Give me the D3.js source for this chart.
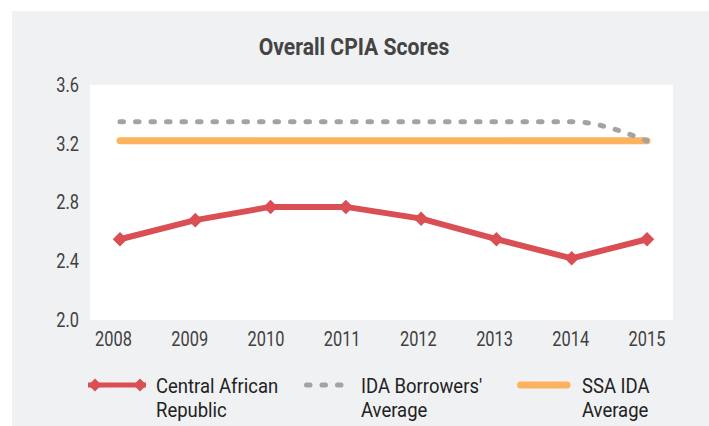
<!DOCTYPE html>
<html>
<head>
<meta charset="utf-8">
<script src="https://cdn.jsdelivr.net/npm/d3@7"></script>
<style>
  body { margin: 0; background: #fff; }
  svg text { font-family: "Roboto", sans-serif; transform-box: fill-box; }
  .narrow-mid { transform: scaleX(0.82); transform-origin: center; }
  .narrow-end { transform: scaleX(0.82); transform-origin: right; }
  .narrow-start { transform: scaleX(0.88); transform-origin: left; }
  .title { transform: scaleX(0.88); transform-origin: center; }
</style>
</head>
<body>
<div id="chart-area"></div>
<script>
var years = ["2008", "2009", "2010", "2011", "2012", "2013", "2014", "2015"];
var carScores = [2.55, 2.68, 2.77, 2.77, 2.69, 2.55, 2.42, 2.55];
var idaScores = [3.35, 3.35, 3.35, 3.35, 3.35, 3.35, 3.35, 3.22];
var ssaScores = [3.22, 3.22, 3.22, 3.22, 3.22, 3.22, 3.22, 3.22];
var yTicks = [2.0, 2.4, 2.8, 3.2, 3.6];
var legendNames = [["Central African", "Republic"], ["IDA Borrowers'", "Average"], ["SSA IDA", "Average"]];

var outerWidth = 709;
var outerHeight = 426;

var margin = { left: 90, right: 36, top: 85, bottom: 106 };
var width = outerWidth - margin.left - margin.right;
var height = outerHeight - margin.top - margin.bottom;

var red = "#d94f54";
var grey = "#a3a3a3";
var orange = "#fdb35e";

var svg = d3.select("#chart-area")
  .append("svg")
  .attr("width", outerWidth)
  .attr("height", outerHeight);

// grey panel
svg.append("rect")
  .attr("x", 12)
  .attr("y", 11)
  .attr("width", outerWidth - 12)
  .attr("height", outerHeight - 11)
  .attr("fill", "#f0f1f3");

svg.append("text")
  .attr("class", "title")
  .attr("x", 354)
  .attr("y", 55)
  .attr("text-anchor", "middle")
  .attr("font-size", "24px")
  .attr("font-weight", "bold")
  .attr("fill", "#444")
  .text("Overall CPIA Scores");

var g = svg.append("g")
  .attr("transform", "translate(" + margin.left + "," + margin.top + ")");

// white plot area
g.append("rect")
  .attr("width", width)
  .attr("height", height)
  .attr("fill", "#fff");

var x = d3.scalePoint()
  .domain(years)
  .range([30, width - 26]);

// labels sit on a slightly wider spacing than the points
var xLabels = d3.scalePoint()
  .domain(years)
  .range([23, width - 26.5]);

var y = d3.scaleLinear()
  .domain([2.0, 3.6])
  .range([height, 0]);

// Left axis
var yAxis = d3.axisLeft(y)
  .tickValues(yTicks)
  .tickFormat(d3.format(".1f"))
  .tickSize(0)
  .tickPadding(11);

var yg = g.append("g").call(yAxis);
yg.select(".domain").remove();
yg.selectAll("text")
  .attr("class", "narrow-end")
  .attr("font-size", "20px")
  .attr("fill", "#404040");

// Bottom axis
var xAxis = d3.axisBottom(xLabels)
  .tickSize(0)
  .tickPadding(12);

var xg = g.append("g")
  .attr("transform", "translate(0," + height + ")")
  .call(xAxis);
xg.select(".domain").remove();
xg.selectAll("text")
  .attr("class", "narrow-mid")
  .attr("font-size", "20px")
  .attr("fill", "#404040");

function lineFor(values, curve) {
  return d3.line()
    .x(function(d, i) { return x(years[i]); })
    .y(function(d) { return y(d); })
    .curve(curve)(values);
}

// SSA IDA average
g.append("path")
  .attr("d", lineFor(ssaScores, d3.curveLinear))
  .attr("fill", "none")
  .attr("stroke", orange)
  .attr("stroke-width", 7)
  .attr("stroke-linecap", "round");

// IDA borrowers average
g.append("path")
  .attr("d", lineFor(idaScores, d3.curveMonotoneX))
  .attr("fill", "none")
  .attr("stroke", grey)
  .attr("stroke-width", 5)
  .attr("stroke-linecap", "round")
  .attr("stroke-dasharray", "3.5 12");

// Central African Republic
g.append("path")
  .attr("d", lineFor(carScores, d3.curveLinear))
  .attr("fill", "none")
  .attr("stroke", red)
  .attr("stroke-width", 6)
  .attr("stroke-linejoin", "round");

var diamond = d3.symbol().type(d3.symbolDiamond2).size(135);
var smallDiamond = d3.symbol().type(d3.symbolDiamond2).size(110);

g.selectAll(".car-pt")
  .data(carScores)
  .enter()
  .append("path")
  .attr("class", "car-pt")
  .attr("d", diamond)
  .attr("transform", function(d, i) {
    return "translate(" + x(years[i]) + "," + y(d) + ")";
  })
  .attr("fill", red);

// Legend
var legend = svg.append("g");
var legendX = [88, 304, 517];
var textX = [156, 361, 582];
var ly = 385;

legend.append("line")
  .attr("x1", legendX[0]).attr("x2", legendX[0] + 58)
  .attr("y1", ly).attr("y2", ly)
  .attr("stroke", red).attr("stroke-width", 5);
[legendX[0] + 7, legendX[0] + 52].forEach(function(cx) {
  legend.append("path")
    .attr("d", smallDiamond)
    .attr("transform", "translate(" + cx + "," + ly + ")")
    .attr("fill", red);
});

legend.append("line")
  .attr("x1", legendX[1] + 2.5).attr("x2", legendX[1] + 42)
  .attr("y1", ly).attr("y2", ly)
  .attr("stroke", grey).attr("stroke-width", 5)
  .attr("stroke-linecap", "round")
  .attr("stroke-dasharray", "3.5 12");

legend.append("line")
  .attr("x1", legendX[2] + 3.5).attr("x2", legendX[2] + 50)
  .attr("y1", ly).attr("y2", ly)
  .attr("stroke", orange).attr("stroke-width", 7)
  .attr("stroke-linecap", "round");

legendNames.forEach(function(lines, i) {
  var t = legend.append("text")
    .attr("class", "narrow-start")
    .attr("x", textX[i])
    .attr("y", ly + 8)
    .attr("font-size", "21px")
    .attr("fill", "#222");
  lines.forEach(function(s, j) {
    t.append("tspan")
      .attr("x", textX[i])
      .attr("dy", j === 0 ? 0 : 24)
      .text(s);
  });
});
</script>
</body>
</html>
